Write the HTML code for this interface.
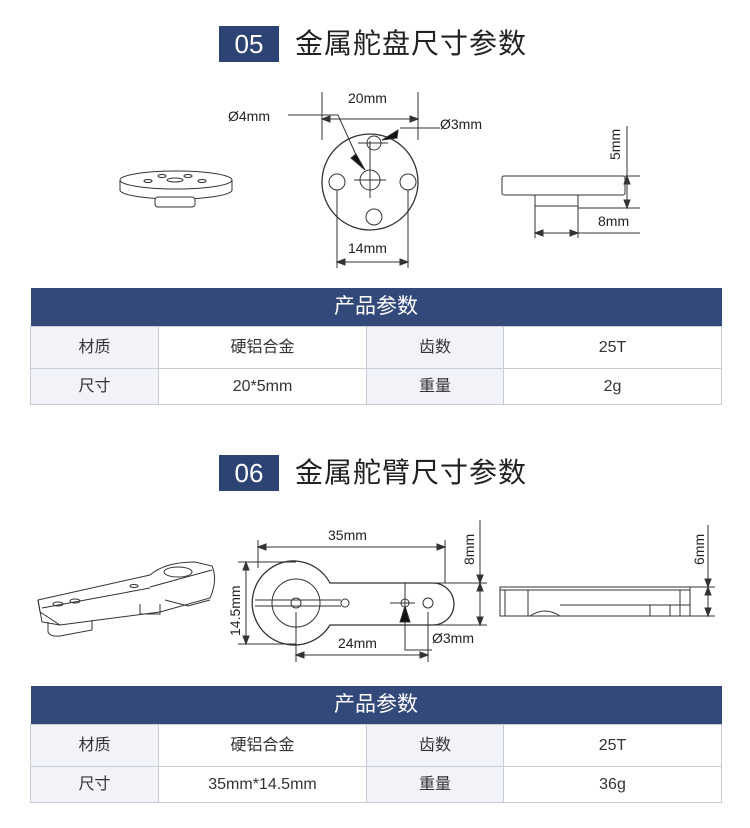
<!DOCTYPE html>
<html><head><meta charset="utf-8"><style>
body{margin:0;width:750px;height:828px;background:#fff;position:relative;overflow:hidden;font-family:"Liberation Sans","Noto Sans CJK SC",sans-serif;}
.badge{position:absolute;left:219px;width:60px;height:36px;background:#2d4373;color:#fff;font-size:26px;line-height:36px;text-align:center;}
.title{position:absolute;left:295px;font-size:28px;color:#222;line-height:36px;letter-spacing:1px;}
table{position:absolute;left:30px;width:691px;border-collapse:collapse;font-size:16px;color:#333;table-layout:fixed;}
th{background:#33497a;color:#fff;font-weight:normal;font-size:21px;height:38px;padding:0;line-height:38px;}
td{border:1px solid #c8ccd4;text-align:center;padding:0;vertical-align:middle;line-height:20px;}
td.k{background:#f1f3f8;}
svg{position:absolute;left:0;top:0;}
</style></head><body>
<div class="badge" style="top:26px">05</div><div class="title" style="top:26px">金属舵盘尺寸参数</div>
<div class="badge" style="top:455px">06</div><div class="title" style="top:455px">金属舵臂尺寸参数</div>
<table style="top:288px"><colgroup><col style="width:128px"><col style="width:208px"><col style="width:137px"><col style="width:218px"></colgroup>
<tr><th colspan="4">产品参数</th></tr>
<tr style="height:42px"><td class="k">材质</td><td>硬铝合金</td><td class="k">齿数</td><td>25T</td></tr>
<tr style="height:36px"><td class="k">尺寸</td><td>20*5mm</td><td class="k">重量</td><td>2g</td></tr></table>
<table style="top:686px"><colgroup><col style="width:128px"><col style="width:208px"><col style="width:137px"><col style="width:218px"></colgroup>
<tr><th colspan="4">产品参数</th></tr>
<tr style="height:42px"><td class="k">材质</td><td>硬铝合金</td><td class="k">齿数</td><td>25T</td></tr>
<tr style="height:36px"><td class="k">尺寸</td><td>35mm*14.5mm</td><td class="k">重量</td><td>36g</td></tr></table>
<svg width="750" height="828" viewBox="0 0 750 828" fill="none" stroke="#333" stroke-width="1" font-family="Liberation Sans, sans-serif" font-size="14">
<!-- top 3D puck -->
<path d="M120 180 A56 9 0 0 1 232 180 L232 190 A56 9 0 0 1 120 190 Z" fill="#fff"/>
<path d="M120 180 A56 9 0 0 0 232 180"/>
<rect x="155" y="197" width="40" height="10" rx="3" fill="#fff"/>
<ellipse cx="175" cy="180" rx="8" ry="2"/><ellipse cx="148" cy="181" rx="4" ry="1.5"/><ellipse cx="202" cy="181" rx="4" ry="1.5"/><ellipse cx="162" cy="176" rx="4" ry="1.5"/><ellipse cx="188" cy="176" rx="4" ry="1.5"/>
<!-- top front -->
<circle cx="370" cy="182" r="48" stroke-width="1.3"/>
<circle cx="370" cy="180" r="10"/><circle cx="374" cy="143" r="7"/><circle cx="337" cy="182" r="8"/><circle cx="408" cy="182" r="8"/><circle cx="374" cy="217" r="8"/>
<path d="M370 141V198M354 180H386M358 143H388M322 92V140M418 92V140M322 119H418M337 190V268M408 190V268M337 262H408M288 115H338L362 168M440 128H400"/>
<path d="M322 119l8 -3v6zM418 119l-8 -3v6zM337 262l8 -3v6zM408 262l-8 -3v6z" fill="#333"/>
<path d="M365 170l-14-12 5-4z M382 140l16-10 -1 8z" fill="#111"/>
<g fill="#222" stroke="none"><text x="348" y="103">20mm</text><text x="228" y="121">Ø4mm</text><text x="440" y="129">Ø3mm</text><text x="348" y="253">14mm</text><text x="598" y="226">8mm</text>
<text transform="translate(620,160) rotate(-90)">5mm</text></g>
<!-- top side -->
<rect x="502" y="176" width="123" height="19" rx="2" fill="#fff"/>
<path d="M535 195V206H578V195M535 206V238M578 206V238M535 233H640M627 126V208M625 176H640M578 208H640"/>
<path d="M627 176l-3 8h6zM627 208l-3-8h6zM535 233l8-3v6zM578 233l-8-3v6z" fill="#333"/>
<!-- bottom 3D arm -->
<path d="M38 600L150 575Q165 562 195 562L212 566Q218 580 210 598L160 612L60 625L42 622Z" fill="#fff"/>
<path d="M38 600L40 612L60 625M150 587L212 570M42 608L150 588"/>
<path d="M48 622V632Q50 637 60 636L92 630V620M140 604V614H160V604M165 600L188 606L210 600"/>
<ellipse cx="178" cy="572" rx="14" ry="5"/><ellipse cx="58" cy="604" rx="5" ry="2"/><ellipse cx="75" cy="601" rx="5" ry="2"/><ellipse cx="134" cy="586" rx="4" ry="1.5"/>
<!-- bottom top view -->
<path d="M296 561A42 42 0 1 0 330 625H433A21 21 0 0 0 433 583H330A42 42 0 0 0 296 561Z" stroke-width="1.3" fill="#fff"/>
<circle cx="296" cy="603" r="24"/><circle cx="296" cy="603" r="5"/><circle cx="345" cy="603" r="4"/><circle cx="405" cy="603" r="4"/><circle cx="428" cy="603" r="5"/>
<path d="M255 600H341M255 606H341M258 540V568M445 540V583M258 547H445M238 562H296M238 644H296M246 562V644M296 612V662M428 612V662M296 655H428M390 603H415M405 583V650H432M433 583H487M433 625H487M480 520V625"/>
<path d="M258 547l8-3v6zM445 547l-8-3v6zM246 562l-3 8h6zM246 644l-3-8h6zM296 655l8-3v6zM428 655l-8-3v6zM480 583l-3-8h6zM480 583l-3 8h6zM480 625l-3-8h6z" fill="#333"/>
<path d="M405 606l-5 16h10z" fill="#111"/>
<g fill="#222" stroke="none"><text x="328" y="540">35mm</text><text x="338" y="648">24mm</text><text x="432" y="643">Ø3mm</text>
<text transform="translate(240,636) rotate(-90)">14.5mm</text><text transform="translate(474,565) rotate(-90)">8mm</text><text transform="translate(704,565) rotate(-90)">6mm</text></g>
<!-- bottom side -->
<rect x="500" y="587" width="190" height="29" fill="#fff"/>
<path d="M500 590H690M505 590V616H528V590M560 605H690M650 605V616M670 605V616M680 590V616M530 616Q545 606 560 616M690 587H715M690 616H715M708 525V616"/>
<path d="M708 587l-3-8h6zM708 587l-3 8h6zM708 616l-3-8h6z" fill="#333"/>
</svg>
</body></html>
